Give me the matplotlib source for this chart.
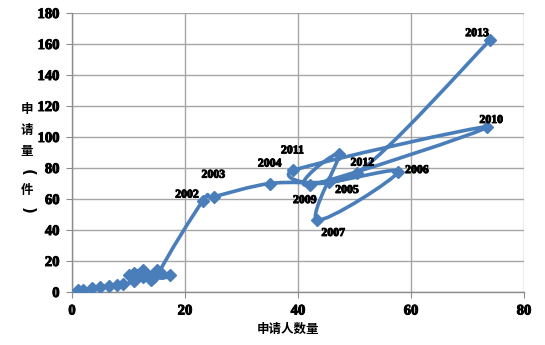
import numpy as np
import matplotlib
matplotlib.use("Agg")
import matplotlib.pyplot as plt
import matplotlib.patheffects as pe
from matplotlib.path import Path
from matplotlib.patches import PathPatch

# applicants vs. applications, one point per year (1985-2013)
years = list(range(1985, 2014))
applicants = [1, 2, 3.5, 5, 6.5, 8, 9, 11, 10, 12.5, 14, 12.5, 15, 14.5, 11, 17.3, 15.5,
              23.2, 25.2, 35.0, 45.5, 57.7, 43.4, 47.3, 42.1, 73.5, 39.2, 50.5, 74.0]
applications = [1, 1.5, 2.5, 3.5, 4, 4.5, 5, 7, 11, 14, 8, 10, 14, 10, 12, 11, 13,
                59, 61.5, 70, 71, 77.4, 46.5, 89, 69, 106.5, 78.5, 77, 162.5]

# labelled years and where their text sits relative to the marker (pixels)
label_offsets = {
    2002: (-16, 6), 2003: (-1, 22), 2004: (0, 20), 2005: (18, -8),
    2006: (19, 2), 2007: (16, -13), 2009: (-5, -15), 2010: (4, 7),
    2011: (-1, 20), 2012: (5, 10), 2013: (-13, 7),
}

blue = "#4A7EBB"
heavy = [pe.withStroke(linewidth=0.7, foreground="black")]
serif_bold = dict(family="Liberation Serif", weight="bold")

fig = plt.figure(figsize=(5.45, 3.45), dpi=100)
ax = fig.add_axes([72 / 545, 1 - 292 / 345, 452 / 545, 279 / 345])
ax.set_xlim(0, 80)
ax.set_ylim(0, 180)


def smooth_path(xs, ys):
    # Catmull-Rom style smoothing as cubic Bezier segments
    pts = np.column_stack([xs, ys])
    n = len(pts)
    verts = [pts[0]]
    codes = [Path.MOVETO]
    for i in range(n - 1):
        p0 = pts[max(i - 1, 0)]
        p1 = pts[i]
        p2 = pts[i + 1]
        p3 = pts[min(i + 2, n - 1)]
        c1 = p1 + (p2 - p0) / 6
        c2 = p2 - (p3 - p1) / 6
        verts += [c1, c2, p2]
        codes += [Path.CURVE4] * 3
    return Path(verts, codes)


ax.add_patch(PathPatch(smooth_path(applicants, applications), facecolor="none",
                       edgecolor=blue, lw=2.6, zorder=3, capstyle="round",
                       joinstyle="round"))
ax.plot(applicants, applications, ls="none", marker="D", ms=6.5,
        color=blue, mec=blue, zorder=4)

for yr, (dx, dy) in label_offsets.items():
    i = years.index(yr)
    ax.annotate(str(yr), (applicants[i], applications[i]), xytext=(dx, dy),
                textcoords="offset pixels", ha="center", va="center",
                fontsize=8.5, zorder=5, path_effects=heavy, **serif_bold)

ax.set_xticks(range(0, 81, 20))
ax.set_yticks(range(0, 181, 20))
ax.grid(True, color="#A6A6A6", lw=1)
ax.set_axisbelow(True)
for s in ["top", "right"]:
    ax.spines[s].set_visible(False)
for s in ["left", "bottom"]:
    ax.spines[s].set_color("#8C8C8C")
    ax.spines[s].set_linewidth(1)
ax.tick_params(length=4, color="#8C8C8C", labelsize=10.5, pad=5)
for lab in ax.get_xticklabels() + ax.get_yticklabels():
    lab.set_fontfamily("Liberation Serif")
    lab.set_fontweight("bold")
    lab.set_path_effects(heavy)

cjk = ["Noto Sans CJK SC", "DejaVu Sans"]
fig.text(288 / 545, 1 - 329 / 345, "申请人数量", family=cjk, weight="bold",
         fontsize=9, ha="center", va="center")
# vertical axis title, one character per line, brackets turned sideways
ylab_chars = ["申", "请", "量", "(", "件", ")"]
ylab_ys = [110, 131, 151, 172, 191, 210]
for ch, py in zip(ylab_chars, ylab_ys):
    if ch in "()":
        fig.text(27 / 545, 1 - py / 345, ch, family="DejaVu Sans", weight="bold",
                 fontsize=11, ha="center", va="center", rotation=-90,
                 rotation_mode="anchor")
    else:
        fig.text(27 / 545, 1 - py / 345, ch, family=cjk, weight="bold",
                 fontsize=9, ha="center", va="center")

fig.savefig("out.png", dpi=100)
